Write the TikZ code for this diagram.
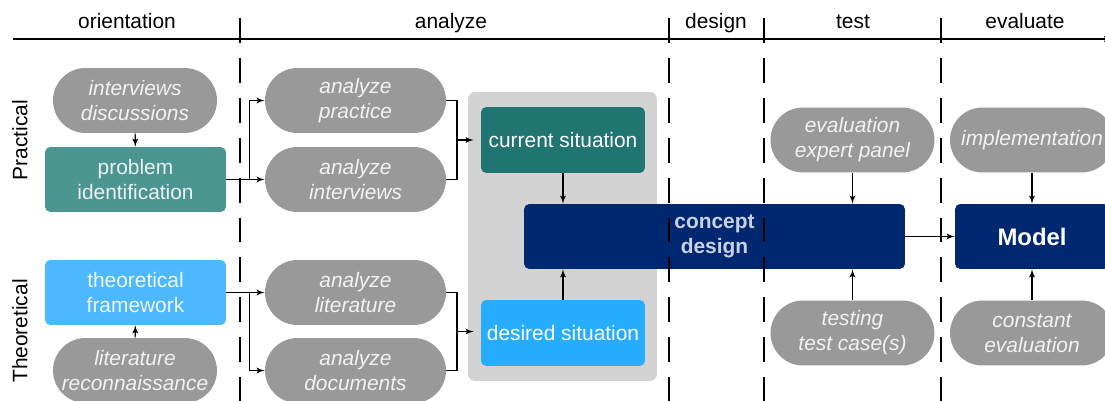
\documentclass[tikz,border=0pt]{standalone}
\usepackage{fontspec}
\setmainfont{Liberation Sans}
\usepackage{tikz}
\usetikzlibrary{arrows,positioning,calc}
\definecolor{pillgray}{RGB}{153,153,153}
\definecolor{pilltext}{RGB}{242,242,242}
\definecolor{probteal}{RGB}{76,150,146}
\definecolor{curteal}{RGB}{32,116,113}
\definecolor{theoblue}{RGB}{77,184,255}
\definecolor{desblue}{RGB}{38,173,255}
\definecolor{navy}{RGB}{0,40,112}
\definecolor{conceptxt}{RGB}{200,208,225}
\definecolor{boxgray}{RGB}{211,211,211}
\newcommand\diafont{\fontsize{11.9pt}{14.3pt}\selectfont}
\tikzset{
>=latex',
  pill/.style={
    rectangle,
    rounded corners=0.65cm,
    fill=pillgray,
    text=pilltext,
    font=\diafont\itshape,
    minimum width=3.28cm,
    minimum height=1.30cm,
    inner sep=0pt,
    align=center},
  widepill/.style={pill, minimum width=3.62cm},
  situbox/.style={
    rectangle,
    rounded corners=3pt,
    text=white,
    minimum width=3.28cm,
    minimum height=1.32cm,
    inner sep=0pt,
    align=center},
  line/.style={draw, line width=0.6pt},
  arrow/.style={line, ->},
  phase/.style={anchor=base},
  phasetick/.style={line width=0.9pt},
  phasesep/.style={line width=1.1pt, dash pattern=on 14.2pt off 8.5pt},
}
\begin{document}
\begin{tikzpicture}[x=0.02cm, y=-0.02cm, font=\diafont]
\useasboundingbox (0,0) rectangle (1105,401);
\clip (0,0) rectangle (1105,401);

% time line and phases
\draw[arrow] (13,39) -- (1112,39);
\node[phase] (orient) at (127,29) {orientation};
\node[phase] (analyze) at (451,29) {analyze};
\node[phase] (design) at (716,29) {design};
\node[phase] (test) at (853,29) {test};
\node[phase] (evaluate) at (1025,29) {evaluate};

% rows
\node[rotate=90] (practical) at (20,140) {Practical};
\node[rotate=90] (theoretical) at (20,331) {Theoretical};

% orientation
\node[pill] (intdisc) at (135,100.5) {interviews\\discussions};
\node[situbox, fill=probteal, text=white!88!probteal, minimum width=3.62cm, minimum height=1.30cm] (probid) at (135.5,179.5) {problem\\identification};
\node[situbox, fill=theoblue, text=white!90!theoblue, minimum width=3.62cm, minimum height=1.30cm] (theofw) at (135.5,292.5) {theoretical\\framework};
\node[pill] (litrec) at (135,370.5) {literature\\reconnaissance};

% analyze
\node[widepill] (anprac) at (355.5,100.5) {analyze\\practice};
\node[widepill] (anint) at (355.5,179.5) {analyze\\interviews};
\node[widepill] (anlit) at (355.5,292.5) {analyze\\literature};
\node[widepill] (andoc) at (355.5,370.5) {analyze\\documents};

\node[rectangle, rounded corners=4pt, fill=boxgray, minimum width=3.78cm, minimum height=5.78cm] (situations) at (562.5,236.5) {};
\node[situbox, fill=curteal] (cursit) at (563,140) {current situation};
\node[situbox, fill=desblue] (dessit) at (563,333) {desired situation};

% design, test, evaluate
\node[situbox, fill=navy, text=conceptxt, font=\diafont\bfseries, minimum width=7.62cm, minimum height=1.30cm] (concept) at (714.5,236.5) {concept\\design};
\node[pill] (evalpanel) at (852.5,140) {evaluation\\expert panel};
\node[pill] (testing) at (852.5,333) {testing\\test case(s)};
\node[pill] (implem) at (1032,140) {implementation};
\node[situbox, fill=navy, font=\fontsize{13.6pt}{16pt}\selectfont\bfseries, minimum width=3.08cm, minimum height=1.30cm] (model) at (1032,236.5) {Model};
\node[pill] (consteval) at (1032,333) {constant\\evaluation};

% connectors
\draw[arrow] (intdisc) -- (probid);
\draw[arrow] (litrec) -- (theofw);
\draw[arrow] (probid.east) -- (anint.west);
\draw[arrow] (probid.east) -- ++(23,0) |- (anprac.west);
\draw[arrow] (theofw.east) -- (anlit.west);
\draw[arrow] (theofw.east) -- ++(23,0) |- (andoc.west);

\coordinate (jcur) at (457,140);
\coordinate (jdes) at (457,331.5);
\draw[line] (anprac.east) -| (jcur) |- (anint.east);
\draw[arrow, shorten >=4pt] (jcur) -- (cursit.west);
\draw[line] (anlit.east) -| (jdes) |- (andoc.east);
\draw[arrow, shorten >=4pt] (jdes) -- (dessit.west |- jdes);

\draw[arrow] (cursit.south) -- (cursit.south |- concept.north);
\draw[arrow] (dessit.north) -- (dessit.north |- concept.south);
\draw[arrow] (evalpanel.south) -- (evalpanel.south |- concept.north);
\draw[arrow] (testing.north) -- (testing.north |- concept.south);
\draw[arrow] (concept.east) -- (model.west);
\draw[arrow] (implem.south) -- (implem.south |- model.north);
\draw[arrow] (consteval.north) -- (consteval.north |- model.south);

% phase borders
\foreach \x in {240,669,764,941} {
  \draw[phasetick] (\x,18) -- (\x,43);
  \draw[phasesep] (\x,58) -- (\x,401);
}
\end{tikzpicture}
\end{document}
